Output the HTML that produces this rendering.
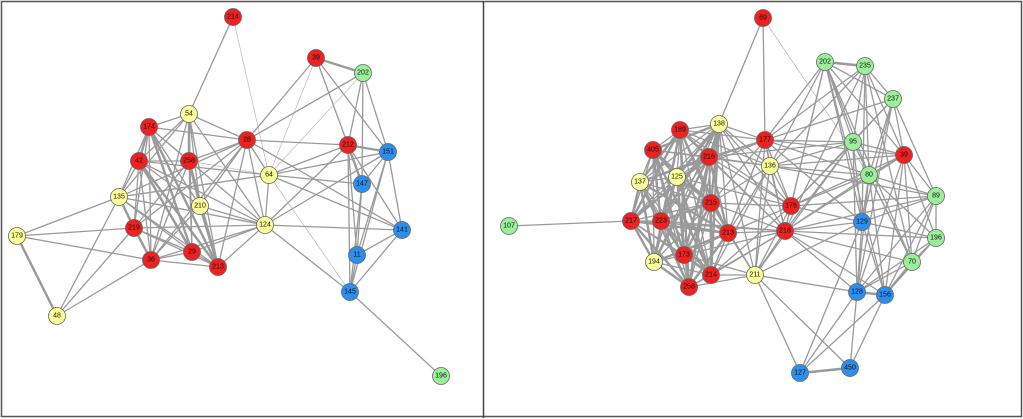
<!DOCTYPE html>
<html><head><meta charset="utf-8"><style>
html,body{margin:0;padding:0;background:#fff;width:1023px;height:419px;overflow:hidden}
svg{display:block}
text{font-family:"Liberation Sans",sans-serif;font-size:7px;text-anchor:middle;dominant-baseline:central;fill:#111}
.r{fill:#ee2020}.y{fill:#ffff99}.g{fill:#99f099}.b{fill:#2b8ff0}
circle{stroke:#666;stroke-width:0.8}
line{stroke:#9a9a9a;stroke-width:1.3}
</style></head><body>
<svg id="s" width="1023" height="419" viewBox="0 0 1023 419">
<rect x="1.5" y="1.5" width="1020" height="415" fill="none" stroke="#555" stroke-width="1.5"/>
<line x1="483.5" y1="1" x2="483.5" y2="418" style="stroke:#444;stroke-width:1.5"/>
<g id="E"></g>
<g id="N">
<circle class="r" cx="233" cy="17" r="8.5"/><text x="233" y="17">214</text>
<circle class="r" cx="316" cy="58" r="8.5"/><text x="316" y="58">39</text>
<circle class="g" cx="363" cy="73" r="8.5"/><text x="363" y="73">202</text>
<circle class="y" cx="189" cy="114" r="8.5"/><text x="189" y="114">54</text>
<circle class="r" cx="149" cy="127" r="8.5"/><text x="149" y="127">174</text>
<circle class="r" cx="247" cy="140" r="8.5"/><text x="247" y="140">28</text>
<circle class="r" cx="348" cy="145" r="8.5"/><text x="348" y="145">212</text>
<circle class="b" cx="388" cy="152" r="8.5"/><text x="388" y="152">151</text>
<circle class="r" cx="139" cy="161" r="8.5"/><text x="139" y="161">42</text>
<circle class="r" cx="189" cy="161" r="8.5"/><text x="189" y="161">258</text>
<circle class="y" cx="269" cy="175" r="8.5"/><text x="269" y="175">64</text>
<circle class="b" cx="362" cy="184" r="8.5"/><text x="362" y="184">147</text>
<circle class="y" cx="119" cy="197" r="8.5"/><text x="119" y="197">135</text>
<circle class="y" cx="200" cy="206" r="8.5"/><text x="200" y="206">210</text>
<circle class="y" cx="17" cy="236" r="8.5"/><text x="17" y="236">179</text>
<circle class="r" cx="134" cy="228" r="8.5"/><text x="134" y="228">219</text>
<circle class="y" cx="265" cy="225" r="8.5"/><text x="265" y="225">124</text>
<circle class="b" cx="402" cy="230" r="8.5"/><text x="402" y="230">141</text>
<circle class="r" cx="151" cy="260" r="8.5"/><text x="151" y="260">36</text>
<circle class="r" cx="192" cy="252" r="8.5"/><text x="192" y="252">29</text>
<circle class="r" cx="218" cy="267" r="8.5"/><text x="218" y="267">213</text>
<circle class="b" cx="357" cy="255" r="8.5"/><text x="357" y="255">11</text>
<circle class="b" cx="350" cy="292" r="8.5"/><text x="350" y="292">145</text>
<circle class="y" cx="57" cy="316" r="8.5"/><text x="57" y="316">48</text>
<circle class="g" cx="441" cy="376" r="8.5"/><text x="441" y="376">196</text>
<circle class="r" cx="763" cy="18" r="8.5"/><text x="763" y="18">69</text>
<circle class="g" cx="825" cy="62" r="8.5"/><text x="825" y="62">202</text>
<circle class="g" cx="865" cy="66" r="8.5"/><text x="865" y="66">235</text>
<circle class="g" cx="893" cy="99" r="8.5"/><text x="893" y="99">237</text>
<circle class="y" cx="719" cy="124" r="8.5"/><text x="719" y="124">138</text>
<circle class="r" cx="680" cy="130" r="8.5"/><text x="680" y="130">189</text>
<circle class="r" cx="765" cy="140" r="8.5"/><text x="765" y="140">177</text>
<circle class="r" cx="653" cy="150" r="8.5"/><text x="653" y="150">405</text>
<circle class="g" cx="853" cy="142" r="8.5"/><text x="853" y="142">95</text>
<circle class="r" cx="709" cy="157" r="8.5"/><text x="709" y="157">216</text>
<circle class="r" cx="904" cy="155" r="8.5"/><text x="904" y="155">39</text>
<circle class="y" cx="770" cy="166" r="8.5"/><text x="770" y="166">136</text>
<circle class="g" cx="869" cy="175" r="8.5"/><text x="869" y="175">80</text>
<circle class="y" cx="677" cy="177" r="8.5"/><text x="677" y="177">125</text>
<circle class="y" cx="640" cy="182" r="8.5"/><text x="640" y="182">137</text>
<circle class="g" cx="936" cy="196" r="8.5"/><text x="936" y="196">89</text>
<circle class="r" cx="711" cy="203" r="8.5"/><text x="711" y="203">215</text>
<circle class="r" cx="791" cy="206" r="8.5"/><text x="791" y="206">176</text>
<circle class="g" cx="509" cy="226" r="8.5"/><text x="509" y="226">107</text>
<circle class="r" cx="631" cy="221" r="8.5"/><text x="631" y="221">217</text>
<circle class="r" cx="661" cy="221" r="8.5"/><text x="661" y="221">223</text>
<circle class="b" cx="862" cy="222" r="8.5"/><text x="862" y="222">129</text>
<circle class="r" cx="785" cy="231" r="8.5"/><text x="785" y="231">218</text>
<circle class="r" cx="728" cy="233" r="8.5"/><text x="728" y="233">213</text>
<circle class="g" cx="936" cy="238" r="8.5"/><text x="936" y="238">196</text>
<circle class="r" cx="684" cy="255" r="8.5"/><text x="684" y="255">173</text>
<circle class="y" cx="654" cy="262" r="8.5"/><text x="654" y="262">194</text>
<circle class="g" cx="912" cy="262" r="8.5"/><text x="912" y="262">70</text>
<circle class="r" cx="711" cy="275" r="8.5"/><text x="711" y="275">214</text>
<circle class="y" cx="755" cy="275" r="8.5"/><text x="755" y="275">211</text>
<circle class="r" cx="689" cy="287" r="8.5"/><text x="689" y="287">258</text>
<circle class="b" cx="857" cy="292" r="8.5"/><text x="857" y="292">128</text>
<circle class="b" cx="885" cy="295" r="8.5"/><text x="885" y="295">156</text>
<circle class="b" cx="850" cy="368" r="8.5"/><text x="850" y="368">450</text>
<circle class="b" cx="800" cy="373" r="8.5"/><text x="800" y="373">127</text>
</g>
</svg>
<script>
var L={214:[233,17],39:[316,58],202:[363,73],54:[189,114],174:[149,127],28:[247,140],212:[348,145],151:[388,152],42:[139,161],258:[189,161],64:[269,175],147:[362,184],135:[119,197],210:[200,206],179:[17,236],219:[134,228],124:[265,225],141:[402,230],36:[151,260],29:[192,252],213:[218,267],11:[357,255],145:[350,292],48:[57,316],196:[441,376]};
var R={69:[763,18],202:[825,62],235:[865,66],237:[893,99],138:[719,124],189:[680,130],177:[765,140],405:[653,150],95:[853,142],216:[709,157],39:[904,155],136:[770,166],80:[869,175],125:[677,177],137:[640,182],89:[936,196],215:[711,203],176:[791,206],107:[509,226],217:[631,221],223:[661,221],129:[862,222],218:[785,231],213:[728,233],196:[936,238],173:[684,255],194:[654,262],70:[912,262],214:[711,275],211:[755,275],258:[689,287],128:[857,292],156:[885,295],450:[850,368],127:[800,373]};
var le="214-54 214-64:t 39-202:k 39-28 39-212 39-151 39-64:t 202-28 202-212 202-151 202-147 202-64:t 54-174 54-28 54-42 54-258:k 54-210 54-29 54-213 54-124 54-135 54-36 174-28 174-42:k 174-258 174-29:k 174-213:k 174-36 174-219 174-210 174-124 42-258 42-29:k 42-213:k 42-36 42-219 42-135 42-124 42-64 258-210:k 258-213:k 258-29 258-36 258-28 258-64:t 258-219 28-212 28-64 28-124 28-210 28-213 28-36 28-135 28-141 28-219 212-151:k 212-147:k 212-11 212-145 212-141 212-124 212-64 151-147 151-64 151-124 151-141 151-11 151-145 147-11 147-145 147-64 64-124 64-135 64-145:t 64-141 124-141 124-145 124-213 124-135 124-219 124-36 124-29 124-210 135-179 135-48 135-219:k 135-36 135-29 135-213 179-219 179-36 179-48:k 219-48 36-48 219-36:k 219-29 219-213 36-29 36-213 29-213 210-213:k 210-36 141-11 141-145 11-145 145-196 42-210 174-135 42-174";
var C=[189,405,216,125,137,215,217,223,213,173,194,214,258,138],re=[];
for(var i=0;i<C.length;i++)for(var j=i+1;j<C.length;j++)re.push(C[i]+"-"+C[j]+((i+j)%2==0?":k":""));
re=re.join(" ")+" 107-217 69-138 69-177 69-80:t 138-177 138-136 138-176 138-218 138-211 177-189 177-216 177-125 177-215 177-213 177-214 177-202 177-235 177-237 177-95 177-39 177-80 177-176 177-218 177-211 177-136 177-129 177-137 136-189 136-405 136-216 136-215 136-213 136-214 136-176 136-218 136-211 136-95 136-39 136-89 136-80 136-235 136-202 176-215 176-213 176-214 176-216 176-189 176-89 176-95 176-202 176-237 176-129 176-80 176-39 176-218 176-125 218-215 218-213 218-214 218-173 218-258 218-217 218-223 218-216 218-189 218-95 218-80 218-39 218-89 218-196 218-70 218-129 218-128 218-156 218-235 218-202 211-213 211-214 211-258 211-173 211-215 211-176 211-218 211-128 211-127 211-450 211-129 211-95 202-235:k 202-237 202-95 202-80 202-129 202-70 202-156 202-39 235-237 235-95 235-80 235-129 235-39 235-70 237-95 237-80 237-39 237-89 237-128 237-129 95-39 95-80 95-129 95-128 95-70 39-80 39-89 39-196 39-70 39-128 39-156 80-89 80-129 80-128 80-156 80-70 80-196 89-196 89-70 89-128 89-156 89-129 196-70 196-156 196-128 70-156:k 70-128 129-128 129-156 129-127 128-156:k 128-127 128-450 156-450 156-127 127-450:k 129-196 216-95";
var g=document.getElementById("E"),ns="http://www.w3.org/2000/svg";
function draw(s,P){s.split(" ").forEach(function(e){var p=e.split(":"),ab=p[0].split("-"),a=P[ab[0]],b=P[ab[1]];if(!a||!b)return;var l=document.createElementNS(ns,"line");l.setAttribute("x1",a[0]);l.setAttribute("y1",a[1]);l.setAttribute("x2",b[0]);l.setAttribute("y2",b[1]);if(p[1]=="k")l.style.strokeWidth="2.4";if(p[1]=="t"){l.style.strokeWidth="0.7";l.style.stroke="#bbb";}g.appendChild(l);});}
draw(le,L);draw(re,R);
</script>
</body></html>
